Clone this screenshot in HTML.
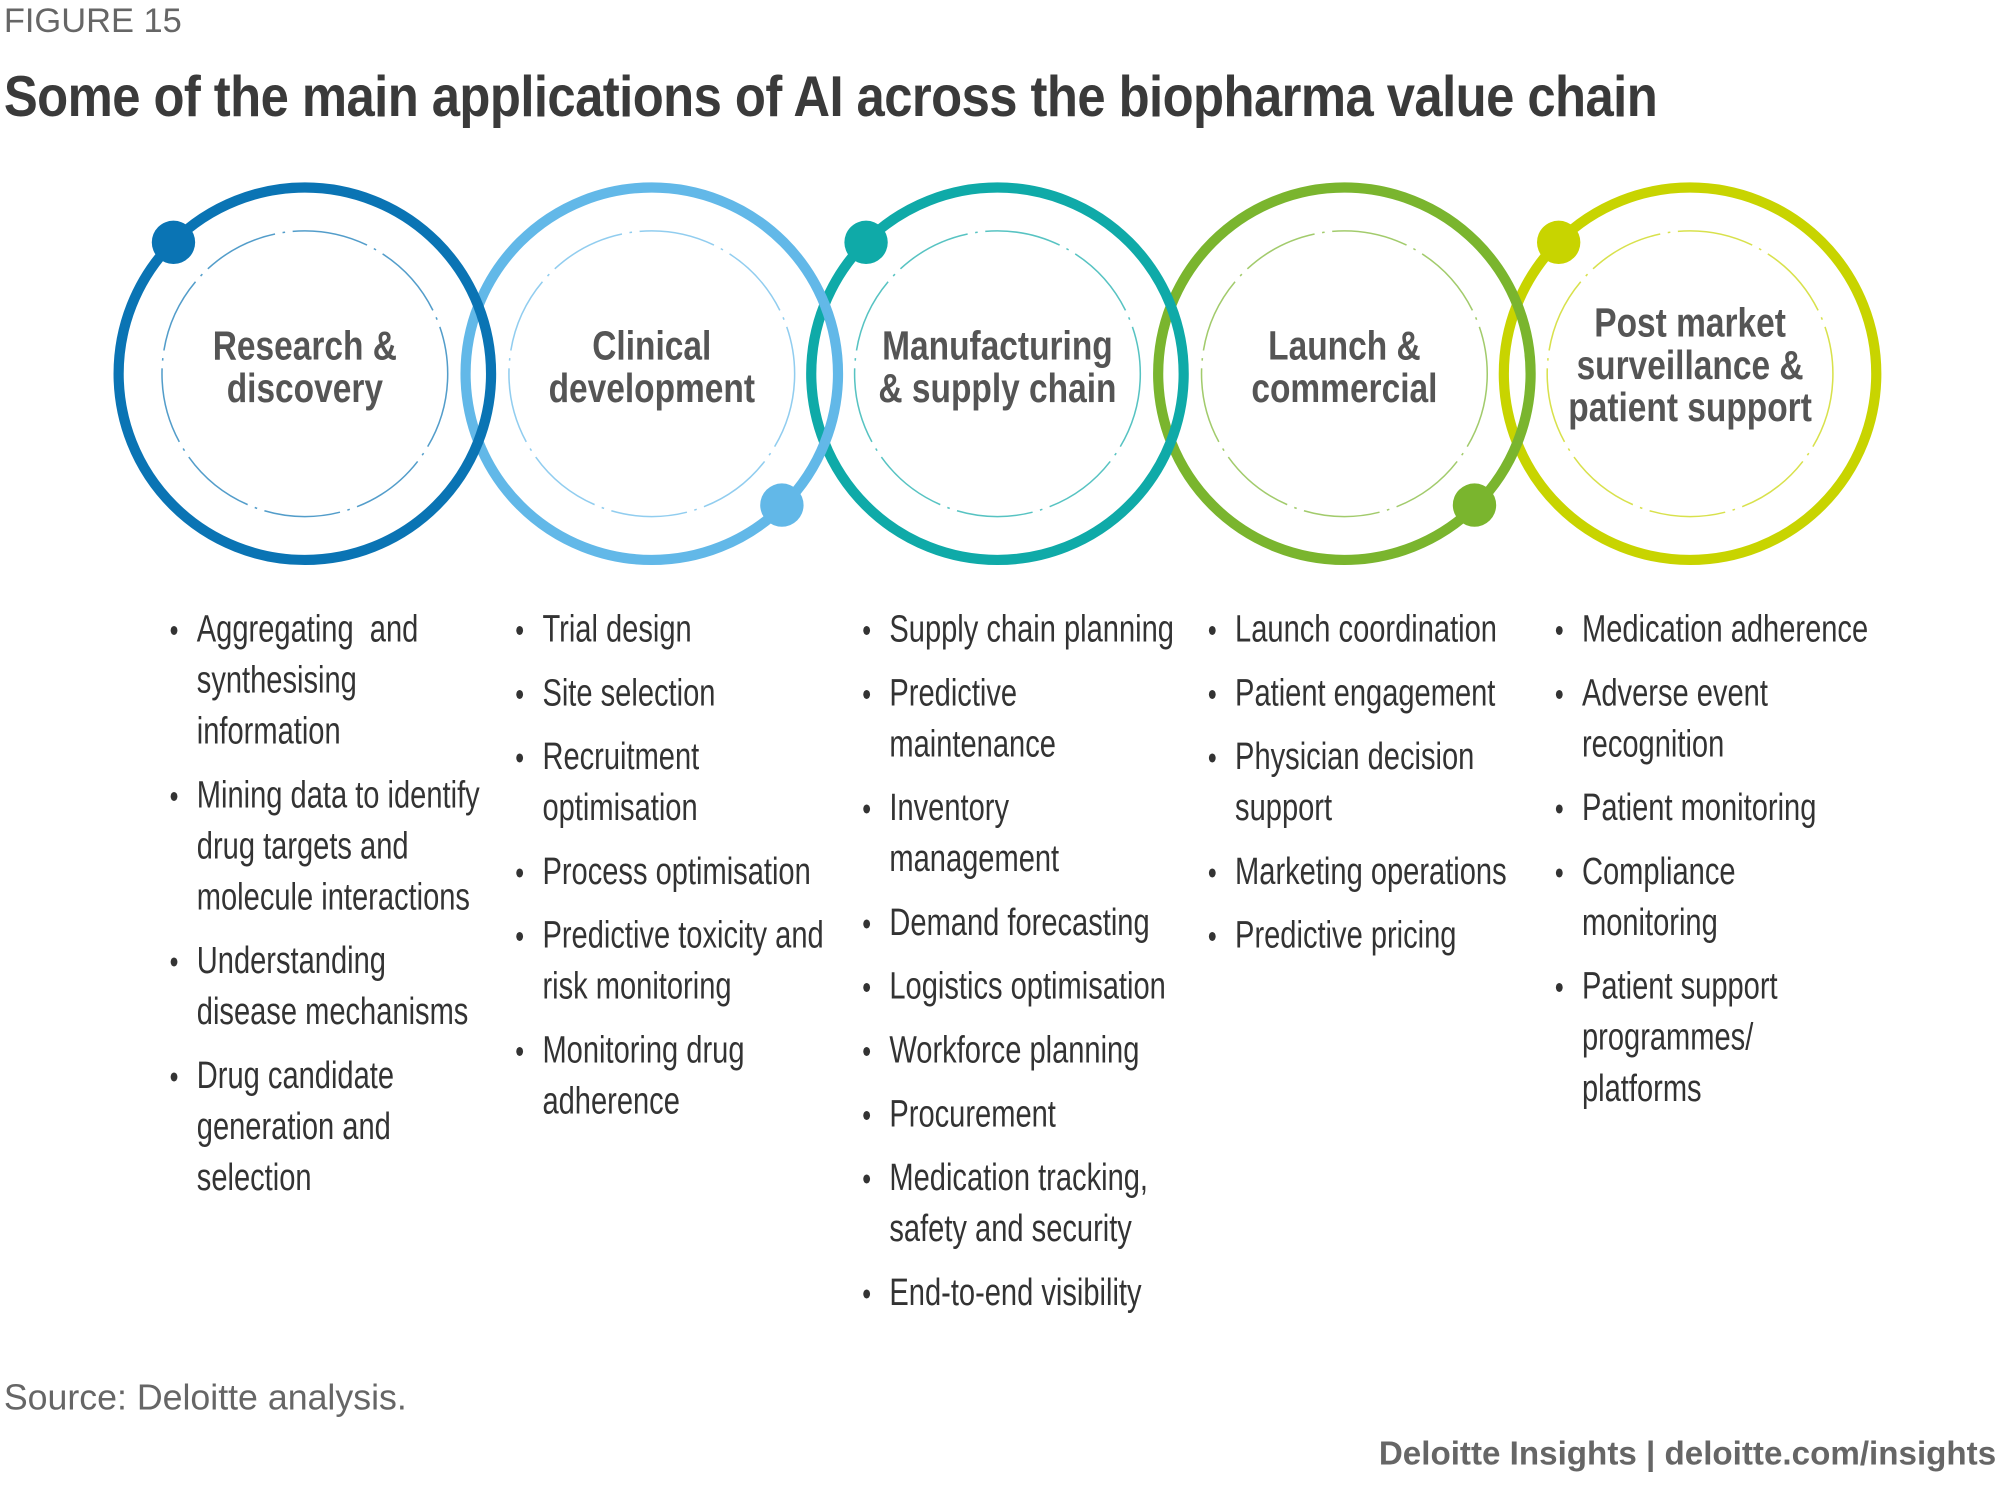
<!DOCTYPE html>
<html><head><meta charset="utf-8"><style>
html,body{margin:0;padding:0;background:#fff;}
body{width:2000px;height:1486px;overflow:hidden;position:relative;}
#w{position:absolute;left:0;top:0;width:1568px;height:1165px;transform:scale(1.27551);transform-origin:0 0;font-family:"Liberation Sans",sans-serif;color:#333;}
.a{position:absolute;white-space:nowrap;}
.fig{left:3px;top:1px;font-size:27px;color:#666;}
.title{left:3px;top:50px;font-size:45px;font-weight:bold;color:#3a3a3a;letter-spacing:-0.5px;transform:scaleX(0.885);transform-origin:0 0;}
.lab{position:absolute;width:300px;text-align:center;font-weight:bold;font-size:32px;line-height:33px;color:#555;transform:scaleX(0.82);transform-origin:50% 0;}
ul{position:absolute;margin:0;padding:0;list-style:none;font-size:30px;line-height:40px;color:#333;transform:scaleX(0.76);transform-origin:0 0;}
li{position:relative;padding-left:28px;margin-bottom:10px;white-space:nowrap;}
li:before{content:"•";position:absolute;left:0;top:0;font-size:26px;}
.src{left:3px;top:1080px;font-size:28px;color:#666;}
.ft{right:3px;top:1124px;font-size:26px;font-weight:bold;color:#666;}
</style></head><body><div id="w">
<div class="a fig">FIGURE 15</div>
<div class="a title">Some of the main applications of AI across the biopharma value chain</div>
<svg class="a" style="left:0;top:0" width="1568" height="470">
<g fill="none">
<circle cx="1325" cy="293" r="146" stroke="#c8d400" stroke-width="8"/>
<circle cx="1054" cy="293" r="146" stroke="#7ab52e" stroke-width="8"/>
<circle cx="782" cy="293" r="146" stroke="#0faaa8" stroke-width="8"/>
<circle cx="511" cy="293" r="146" stroke="#62b8e8" stroke-width="8"/>
<circle cx="239" cy="293" r="146" stroke="#0a74b4" stroke-width="8"/>
<circle cx="239" cy="293" r="112" stroke="#0a74b4" stroke-width="1.2" stroke-dasharray="60 6 2 6" opacity=".7"/>
<circle cx="511" cy="293" r="112" stroke="#62b8e8" stroke-width="1.2" stroke-dasharray="60 6 2 6" opacity=".7"/>
<circle cx="782" cy="293" r="112" stroke="#0faaa8" stroke-width="1.2" stroke-dasharray="60 6 2 6" opacity=".7"/>
<circle cx="1054" cy="293" r="112" stroke="#7ab52e" stroke-width="1.2" stroke-dasharray="60 6 2 6" opacity=".7"/>
<circle cx="1325" cy="293" r="112" stroke="#c8d400" stroke-width="1.2" stroke-dasharray="60 6 2 6" opacity=".7"/>
</g>
<circle cx="136" cy="190" r="17" fill="#0a74b4"/>
<circle cx="613" cy="396" r="17" fill="#62b8e8"/>
<circle cx="679" cy="190" r="17" fill="#0faaa8"/>
<circle cx="1156" cy="396" r="17" fill="#7ab52e"/>
<circle cx="1222" cy="190" r="17" fill="#c8d400"/>
</svg>
<div class="lab" style="left:89px;top:255px">Research &amp;<br>discovery</div>
<div class="lab" style="left:361px;top:255px">Clinical<br>development</div>
<div class="lab" style="left:632px;top:255px">Manufacturing<br>&amp; supply chain</div>
<div class="lab" style="left:904px;top:255px">Launch &amp;<br>commercial</div>
<div class="lab" style="left:1175px;top:237px">Post market<br>surveillance &amp;<br>patient support</div>
<ul style="left:133px;top:474px">
<li>Aggregating&nbsp; and<br>synthesising<br>information</li>
<li>Mining data to identify<br>drug targets and<br>molecule interactions</li>
<li>Understanding<br>disease mechanisms</li>
<li>Drug candidate<br>generation and<br>selection</li></ul>
<ul style="left:404px;top:474px">
<li>Trial design</li><li>Site selection</li><li>Recruitment<br>optimisation</li><li>Process optimisation</li><li>Predictive toxicity and<br>risk monitoring</li><li>Monitoring drug<br>adherence</li></ul>
<ul style="left:676px;top:474px">
<li>Supply chain planning</li><li>Predictive<br>maintenance</li><li>Inventory<br>management</li><li>Demand forecasting</li><li>Logistics optimisation</li><li>Workforce planning</li><li>Procurement</li><li>Medication tracking,<br>safety and security</li><li>End-to-end visibility</li></ul>
<ul style="left:947px;top:474px">
<li>Launch coordination</li><li>Patient engagement</li><li>Physician decision<br>support</li><li>Marketing operations</li><li>Predictive pricing</li></ul>
<ul style="left:1219px;top:474px">
<li>Medication adherence</li><li>Adverse event<br>recognition</li><li>Patient monitoring</li><li>Compliance<br>monitoring</li><li>Patient support<br>programmes/<br>platforms</li></ul>
<div class="a src">Source: Deloitte analysis.</div>
<div class="a ft">Deloitte Insights | deloitte.com/insights</div>
</div></body></html>
